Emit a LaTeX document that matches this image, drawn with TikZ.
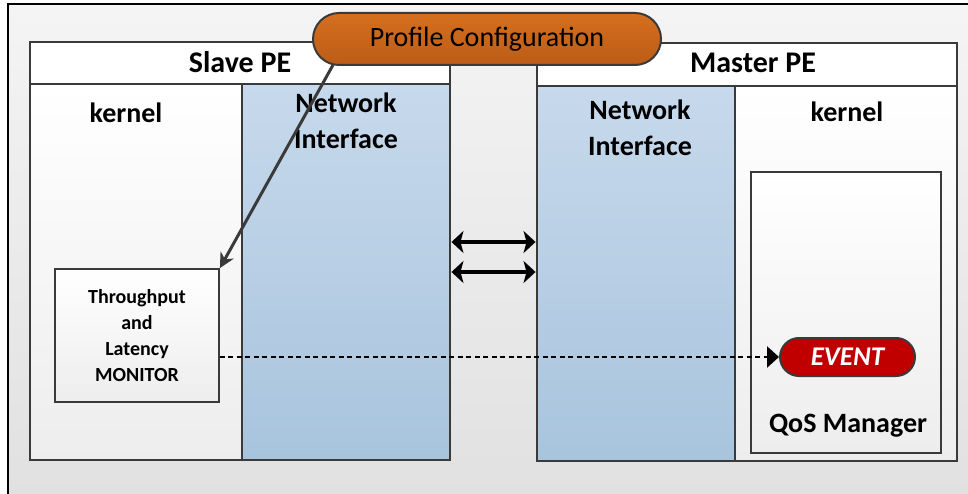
\documentclass[tikz,border=0pt]{standalone}
\usepackage{fontspec}
\setmainfont{Carlito}
\usepackage{xcolor}
\usetikzlibrary{
  arrows.meta,
  positioning,
  shapes.misc
}
\definecolor{qsline}  {HTML}{3A3A3A}
\definecolor{qsnitop} {HTML}{C7D9EC}
\definecolor{qsnibot} {HTML}{A8C4DD}
\definecolor{qsorange}{HTML}{D66F1F}
\definecolor{qsorbot} {HTML}{BC5C16}
\definecolor{qsred}   {HTML}{C00000}
\definecolor{qsbgtop} {HTML}{F4F4F4}
\definecolor{qsbgbot} {HTML}{E0E0E0}
\definecolor{qskbot}  {HTML}{EDEDED}

\begin{document}
\begin{tikzpicture}[
  x=1pt, y=-1pt,
  every node/.style={font=\fontsize{28}{36}\selectfont\bfseries, inner sep=0pt},
  box/.style={rectangle, draw=qsline, line width=2.9pt, inner sep=0pt},
  head/.style={box, fill=white},
  kern/.style={box, top color=white, bottom color=qskbot},
  ni/.style={box, top color=qsnitop, bottom color=qsnibot},
  pill/.style={rounded rectangle, draw=qsline, line width=2pt},
  big/.style={font=\fontsize{30}{36}\selectfont\bfseries},
  arr/.style={-{Stealth[length=15pt,width=15pt]}, line width=3pt, qsline},
  link/.style={{Stealth[length=12pt,width=22pt,inset=3pt]}-{Stealth[length=12pt,width=22pt,inset=3pt]},
               line width=4pt, black},
  evt/.style={-{Triangle[length=12pt,width=21pt]}, line width=2.6pt, black,
              dash pattern=on 5pt off 3.5pt},
]
\useasboundingbox (0,0) rectangle (968,494);
\clip (0,0) rectangle (968,494);

% -- Background frame ----------------------------
\draw[black, line width=2.4pt, top color=qsbgtop, bottom color=qsbgbot]
  (8,4) rectangle (990,520);

% -- Slave PE ------------------------------------
\node[head, minimum width=420pt, minimum height=42pt] (shead) at (240,63) {};
\node[kern, minimum width=212pt, minimum height=376pt] (skern) at (136,272) {};
\node[ni,   minimum width=208pt, minimum height=376pt] (sni)   at (346,272) {};
\node[big, anchor=base] (slbl) at (240,73) {Slave PE};
\node[anchor=base] (skernlbl) at (126,123) {kernel};
\node[align=center, anchor=north] (snilbl) at (346,93) {Network\\Interface};

% -- Master PE -----------------------------------
\node[head, minimum width=420pt, minimum height=43pt] (mhead) at (747,64.5) {};
\node[ni,   minimum width=198pt, minimum height=375pt] (mni)   at (636,273.5) {};
\node[kern, minimum width=222pt, minimum height=375pt] (mkern) at (846,273.5) {};
\node[big, anchor=base] (mlbl) at (753,73) {Master PE};
\node[anchor=base] (mkernlbl) at (847,122) {kernel};
\node[align=center, anchor=north] (mnilbl) at (640,100) {Network\\Interface};

% -- QoS manager ---------------------------------
\node[kern, line width=2pt, minimum width=190pt, minimum height=281pt] (qos) at (846,312.5) {};
\node[anchor=base] (qoslbl) at (848,432) {QoS Manager};
\node[pill, fill=qsred, minimum width=135pt, minimum height=38pt, text=white,
      font=\fontsize{27}{30}\selectfont\bfseries\itshape] (event) at (847.5,357) {EVENT};

% -- Monitor -------------------------------------
\node[box, line width=1.8pt, top color=white, bottom color=qskbot,
      minimum width=164pt, minimum height=133pt, align=center,
      font=\fontsize{20}{26}\selectfont\bfseries] (mon) at (137,335.5)
  {Throughput\\and\\Latency\\MONITOR};

% -- Links between PEs ---------------------------
\draw[link] ([yshift=30pt]sni.east) -- ([yshift=30pt]sni.east -| mni.west);
\draw[link] (sni.east) -- (sni.east -| mni.west);

% -- Monitor to event ----------------------------
\draw[evt] (mon.east |- event.west) -- (event.west);

% -- Profile configuration -----------------------
\draw[arr] (333,65) coordinate (pstart) -- (mon.north east);
\node[pill, top color=qsorange, bottom color=qsorbot, minimum width=348pt,
      minimum height=52pt, font=\fontsize{28}{34}\selectfont\mdseries] (prof) at (487,39)
  {Profile Configuration};

\end{tikzpicture}
\end{document}
